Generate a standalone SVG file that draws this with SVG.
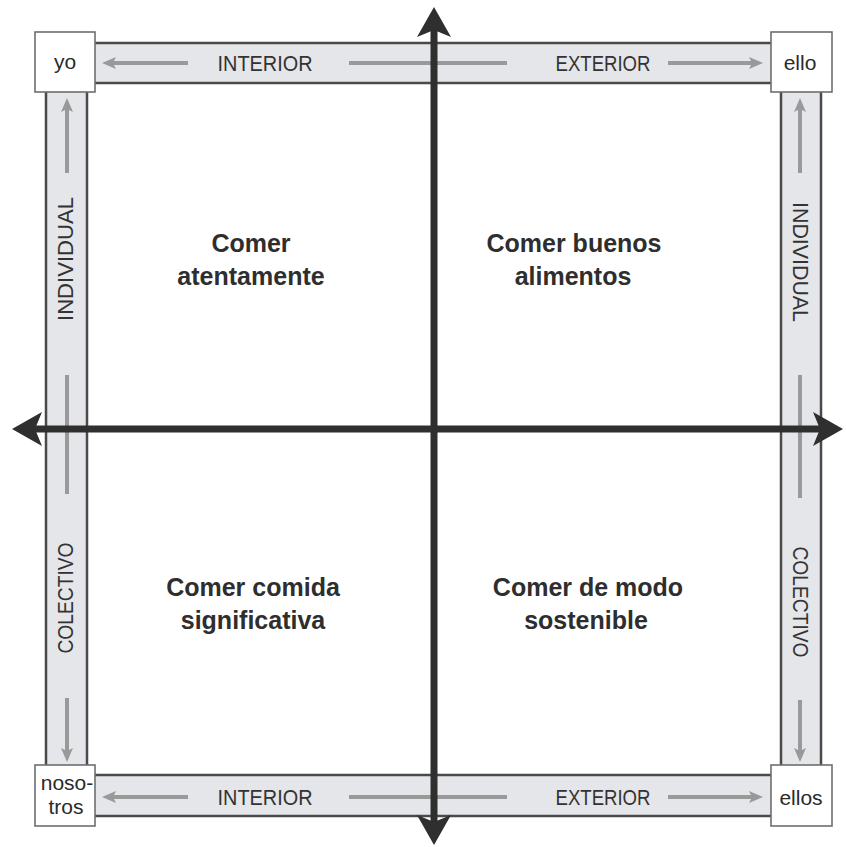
<svg xmlns="http://www.w3.org/2000/svg" width="846" height="847" viewBox="0 0 846 847">
<style>
.bar{fill:#e5e6e9;stroke:#4a4a4a;stroke-width:2.5}
.box{fill:#ffffff;stroke:#6e6e6e;stroke-width:1.6}
.garrow{stroke:#999999;stroke-width:4;fill:none}
.axis{stroke:#2f2f2f;stroke-width:7;fill:none}
.lbl{font-family:"Liberation Sans",Arial,sans-serif;font-size:22px;fill:#333333;text-anchor:middle}
.nm{font-family:"Liberation Sans",Arial,sans-serif;font-size:21px;fill:#2a2a2a;text-anchor:middle}
.q{font-family:"Liberation Sans",Arial,sans-serif;font-size:25px;font-weight:bold;fill:#2e2e2e;text-anchor:middle}
</style>
<defs>
<marker id="ga" viewBox="0 0 14 14" refX="4" refY="7" markerWidth="14" markerHeight="14" markerUnits="userSpaceOnUse" orient="auto">
<path d="M0,1 L14,7 L0,13 L3,7 z" fill="#999999"/>
</marker>
<marker id="ka" viewBox="0 0 30 34" refX="7" refY="17" markerWidth="30" markerHeight="34" markerUnits="userSpaceOnUse" orient="auto-start-reverse">
<path d="M0,0 L30,17 L0,34 L7,17 z" fill="#2f2f2f"/>
</marker>
</defs>
<rect width="846" height="847" fill="#ffffff"/>

<g id="bars">
<rect class="bar" x="90" y="43" width="686" height="40"/>
<rect class="bar" x="90" y="775" width="686" height="41"/>
<rect class="bar" x="46" y="88" width="41" height="680"/>
<rect class="bar" x="781" y="88" width="40" height="680"/>
</g>

<g id="bar-arrows" class="garrow">
<line x1="188" y1="63" x2="112" y2="63" marker-end="url(#ga)"/>
<line x1="349" y1="63" x2="507" y2="63"/>
<line x1="668" y1="63" x2="753" y2="63" marker-end="url(#ga)"/>
<line x1="188" y1="797" x2="112" y2="797" marker-end="url(#ga)"/>
<line x1="349" y1="797" x2="507" y2="797"/>
<line x1="668" y1="797" x2="753" y2="797" marker-end="url(#ga)"/>
<line x1="67" y1="173" x2="67" y2="108" marker-end="url(#ga)"/>
<line x1="67" y1="375" x2="67" y2="494"/>
<line x1="67" y1="698" x2="67" y2="752" marker-end="url(#ga)"/>
<line x1="800" y1="173" x2="800" y2="108" marker-end="url(#ga)"/>
<line x1="800" y1="375" x2="800" y2="498"/>
<line x1="800" y1="700" x2="800" y2="752" marker-end="url(#ga)"/>
</g>

<g id="bar-labels">
<text class="lbl" x="265" y="71" textLength="95" lengthAdjust="spacingAndGlyphs">INTERIOR</text>
<text class="lbl" x="603" y="71" textLength="95" lengthAdjust="spacingAndGlyphs">EXTERIOR</text>
<text class="lbl" x="265" y="805" textLength="95" lengthAdjust="spacingAndGlyphs">INTERIOR</text>
<text class="lbl" x="603" y="805" textLength="95" lengthAdjust="spacingAndGlyphs">EXTERIOR</text>
<text class="lbl" transform="translate(73,259) rotate(-90)" x="0" y="0" textLength="124" lengthAdjust="spacingAndGlyphs">INDIVIDUAL</text>
<text class="lbl" transform="translate(73,598) rotate(-90)" x="0" y="0" textLength="111" lengthAdjust="spacingAndGlyphs">COLECTIVO</text>
<text class="lbl" transform="translate(793,262) rotate(90)" x="0" y="0" textLength="120" lengthAdjust="spacingAndGlyphs">INDIVIDUAL</text>
<text class="lbl" transform="translate(793,602) rotate(90)" x="0" y="0" textLength="111" lengthAdjust="spacingAndGlyphs">COLECTIVO</text>
</g>

<g id="node-yo">
<rect class="box" x="35" y="32" width="60" height="60"/>
<text class="nm" x="65" y="69">yo</text>
</g>
<g id="node-ello">
<rect class="box" x="771" y="32" width="61" height="60"/>
<text class="nm" x="800" y="70">ello</text>
</g>
<g id="node-nosotros">
<rect class="box" x="35" y="765" width="60" height="61"/>
<text class="nm" x="67" y="790">noso-</text>
<text class="nm" x="66" y="814">tros</text>
</g>
<g id="node-ellos">
<rect class="box" x="771" y="765" width="61" height="61"/>
<text class="nm" x="801" y="805">ellos</text>
</g>

<g id="axes">
<line class="axis" x1="434" y1="822" x2="434" y2="30" marker-start="url(#ka)" marker-end="url(#ka)"/>
<line class="axis" x1="35" y1="429" x2="820" y2="429" marker-start="url(#ka)" marker-end="url(#ka)"/>
</g>

<g id="q-tl">
<text class="q" x="251" y="252">Comer</text>
<text class="q" x="251" y="285">atentamente</text>
</g>
<g id="q-tr">
<text class="q" x="574" y="252">Comer buenos</text>
<text class="q" x="573" y="285">alimentos</text>
</g>
<g id="q-bl">
<text class="q" x="253" y="596">Comer comida</text>
<text class="q" x="253" y="629">significativa</text>
</g>
<g id="q-br">
<text class="q" x="588" y="596">Comer de modo</text>
<text class="q" x="586" y="629">sostenible</text>
</g>
</svg>
